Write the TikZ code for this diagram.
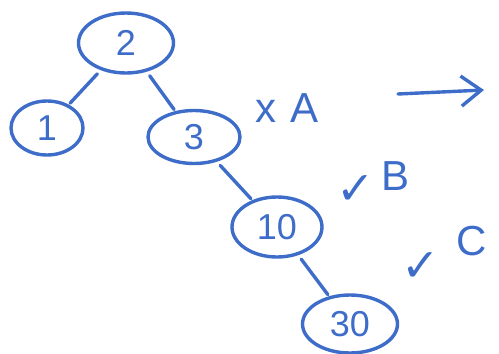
\documentclass[tikz,border=0pt]{standalone}
\usepackage{fontspec}
\setmainfont{Liberation Sans}
\newfontfamily\symfont{DejaVu Sans}
\usetikzlibrary{arrows.meta, shapes.geometric}
\definecolor{ink}{HTML}{3d6cc9}
\tikzset{
  key/.style   = {draw=ink, ellipse, line width=3.4pt, inner sep=0pt,
                  text=ink, font=\fontsize{36}{36}\selectfont},
  note/.style  = {text=ink, font=\fontsize{42}{42}\selectfont, inner sep=0pt},
  link/.style  = {draw=ink, line width=3.4pt, line cap=round,
                  shorten <=5pt, shorten >=2pt},
}

\begin{document}
\begin{tikzpicture}[x=1pt, y=-1pt]
  \useasboundingbox (0,0) rectangle (499,354);

  % tree
  \node[key, minimum width=95pt, minimum height=60pt] (n2)  at (126,43)  {2};
  \node[key, minimum width=72pt, minimum height=54pt] (n1)  at (47,128)  {1};
  \node[key, minimum width=92pt, minimum height=53pt] (n3)  at (194,137) {3};
  \node[key, minimum width=90pt, minimum height=60pt] (n10) at (277,227) {10};
  \node[key, minimum width=95pt, minimum height=58pt] (n30) at (350,324) {30};

  \draw[link] (n2) -- (n1);
  \draw[link] (n2) -- (n3);
  \draw[link] (n3) -- (n10);
  \draw[link] (n10) -- (n30);

  % remarks
  \node[note] (xa)  at (287,108) {x\hspace{14pt}A};
  \node[note] (chb) at (373,183) {\raisebox{-14pt}{\symfont\fontsize{46}{46}\selectfont ✓}\hspace{6pt}B};
  \node[note] (chc) at (444,254) {\raisebox{-26pt}{\symfont\fontsize{46}{46}\selectfont ✓}\hspace{16pt}C};

  \coordinate (arrs) at (398,94);
  \coordinate (arre) at (484,90);
  \draw[link, shorten <=0pt, shorten >=0pt, -{Straight Barb[length=20pt,width=30pt]}] (arrs) -- (arre);
\end{tikzpicture}
\end{document}
